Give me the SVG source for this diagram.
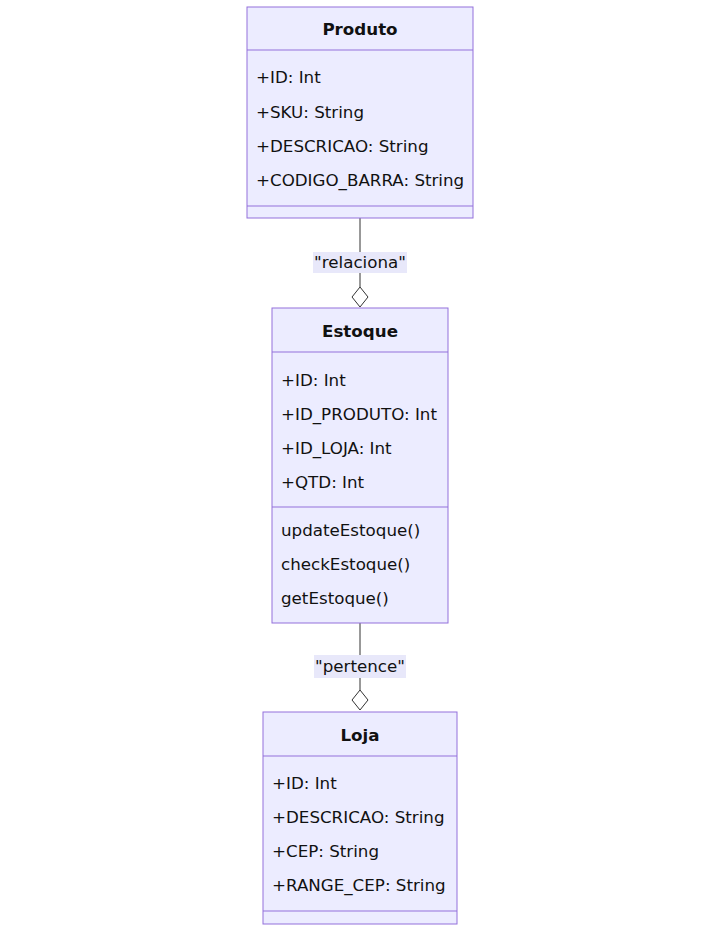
<svg xmlns="http://www.w3.org/2000/svg" width="701" height="936" viewBox="0 0 701 936">
<style>
.box{fill:#ECECFF;stroke:#9370DB;stroke-width:1}
.div{stroke:#9370DB;stroke-width:1}
.t{font-family:"DejaVu Sans",Verdana,sans-serif;font-size:16.7px;fill:#111}
.title{font-weight:bold;text-anchor:middle}
.lbl{text-anchor:middle}
.edge{stroke:#333;stroke-width:1;fill:none}
.lblbg{fill:#E8E8FA}
.dia{fill:#fff;stroke:#333;stroke-width:1}
</style>
<rect width="701" height="936" fill="#fff"/>
<g id="connectors">
  <path class="edge" d="M360,218 L360,287"/>
  <rect class="lblbg" x="313" y="252" width="94" height="21"/>
  <text class="t lbl" x="360" y="268">"relaciona"</text>
  <path class="dia" d="M360,287 L368,297 L360,307 L352,297 Z"/>
  <path class="edge" d="M360,623 L360,690"/>
  <rect class="lblbg" x="314" y="655" width="92" height="23"/>
  <text class="t lbl" x="360" y="672">"pertence"</text>
  <path class="dia" d="M360,690 L368,700 L360,710 L352,700 Z"/>
</g>
<g id="Produto">
  <rect class="box" x="247" y="7" width="226" height="211"/>
  <line class="div" x1="247" y1="50" x2="473" y2="50"/>
  <line class="div" x1="247" y1="206" x2="473" y2="206"/>
  <text class="t title" x="360" y="35">Produto</text>
  <text class="t" x="256" y="83">+ID: Int</text>
  <text class="t" x="256" y="118">+SKU: String</text>
  <text class="t" x="256" y="152">+DESCRICAO: String</text>
  <text class="t" x="256" y="186">+CODIGO_BARRA: String</text>
</g>
<g id="Estoque">
  <rect class="box" x="272" y="308" width="176" height="315"/>
  <line class="div" x1="272" y1="352" x2="448" y2="352"/>
  <line class="div" x1="272" y1="507" x2="448" y2="507"/>
  <text class="t title" x="360" y="337">Estoque</text>
  <text class="t" x="281" y="386">+ID: Int</text>
  <text class="t" x="281" y="420">+ID_PRODUTO: Int</text>
  <text class="t" x="281" y="454">+ID_LOJA: Int</text>
  <text class="t" x="281" y="488">+QTD: Int</text>
  <text class="t" x="281" y="536">updateEstoque()</text>
  <text class="t" x="281" y="570">checkEstoque()</text>
  <text class="t" x="281" y="604">getEstoque()</text>
</g>
<g id="Loja">
  <rect class="box" x="263" y="712" width="194" height="212"/>
  <line class="div" x1="263" y1="756" x2="457" y2="756"/>
  <line class="div" x1="263" y1="911" x2="457" y2="911"/>
  <text class="t title" x="360" y="741">Loja</text>
  <text class="t" x="272" y="789">+ID: Int</text>
  <text class="t" x="272" y="823">+DESCRICAO: String</text>
  <text class="t" x="272" y="857">+CEP: String</text>
  <text class="t" x="272" y="891">+RANGE_CEP: String</text>
</g>
</svg>
